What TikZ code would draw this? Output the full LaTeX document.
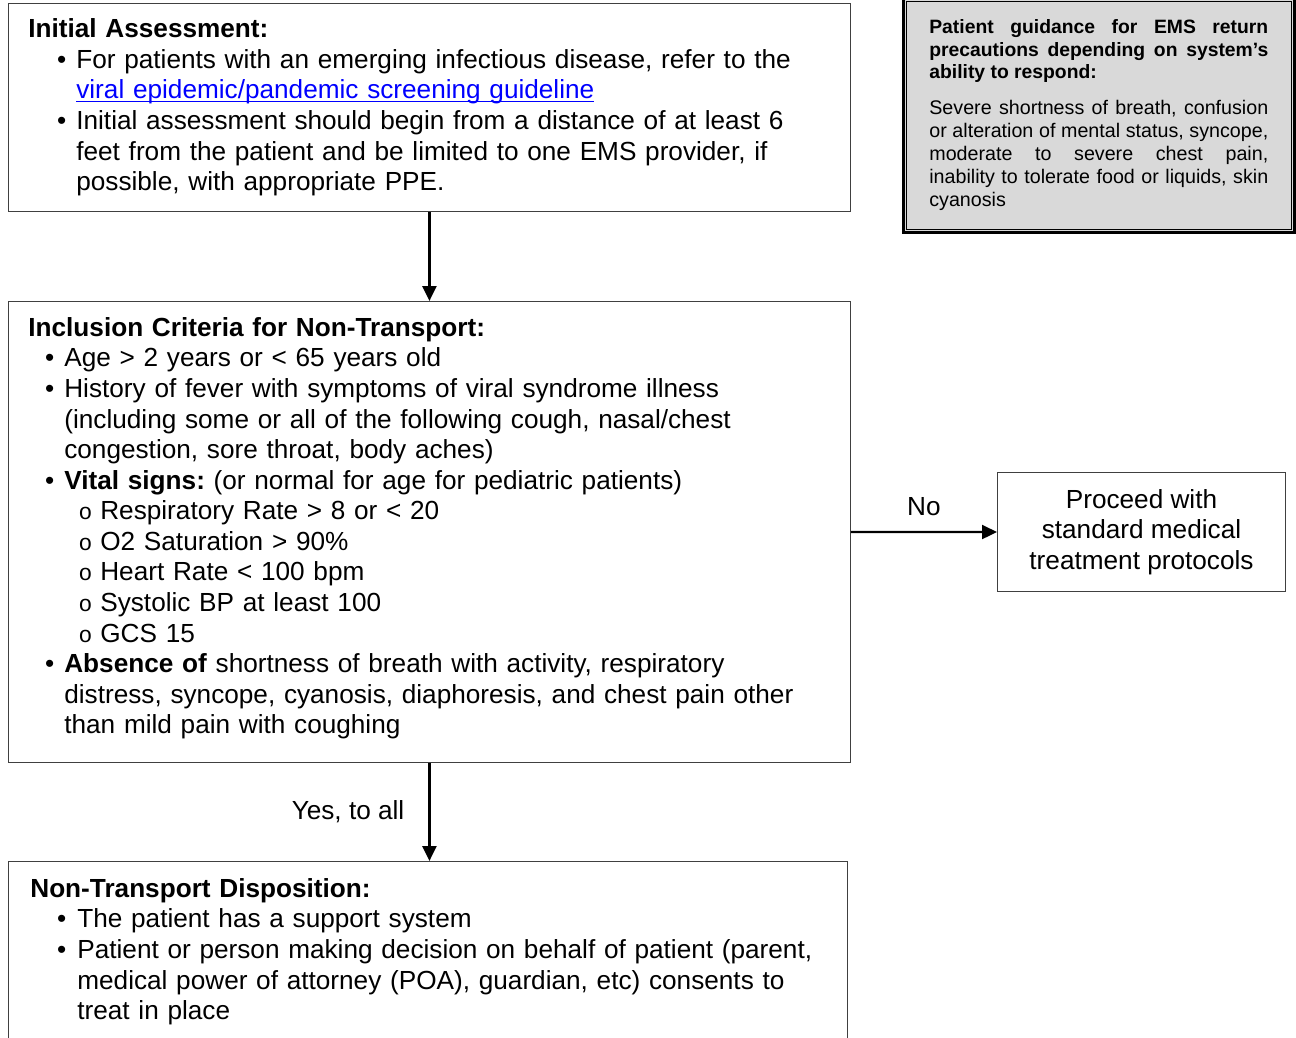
\documentclass[tikz,border=0pt]{standalone}
\usepackage{fontspec}
\setmainfont{Liberation Sans}
\newfontfamily\courierfam{Liberation Mono}
\usetikzlibrary{arrows.meta}
\usetikzlibrary{positioning}

\hyphenpenalty=10000
\exhyphenpenalty=10000
\frenchspacing

% list with own margins: #1 left margin, #2 label sep, #3 label
\newenvironment{bulletlist}[3]{\begin{list}{#3}{\setlength{\leftmargin}{#1}\setlength{\labelsep}{#2}\setlength{\labelwidth}{1cm}\setlength{\topsep}{0pt}\setlength{\partopsep}{0pt}\setlength{\itemsep}{0pt}\setlength{\parsep}{0pt}}}{\end{list}}
\newcommand{\weblink}[1]{\textcolor{blue}{\setbox0\hbox{#1}\rlap{\rule[-2pt]{\wd0}{0.7pt}}#1}}
\newcommand{\subbullet}{{\fontsize{13pt}{13pt}\courierfam o}}

\begin{document}
\begin{tikzpicture}[x=0.02cm,y=-0.02cm,
  box/.style={draw=black!75,line width=0.6pt,rectangle,inner sep=0pt,anchor=north west},
  guide/.style={draw=black,line width=1.7pt,fill=black!15,rectangle,inner sep=0pt,anchor=north west},
  txt/.style={inner sep=0pt,anchor=north west,align=left,font=\fontsize{14.9pt}{17.4pt}\selectfont},
  lbl/.style={inner sep=0pt,font=\fontsize{14.9pt}{17.4pt}\selectfont},
  arr/.style={line width=1.3pt,-{Triangle[length=0.3cm,width=0.28cm]}}]
\useasboundingbox (0,0) rectangle (1296,1038);

% boxes
\node[box,minimum width=16.84cm,minimum height=4.16cm] (box1) at (8,3) {};
\node[box,minimum width=16.84cm,minimum height=9.22cm] (box2) at (8,301) {};
\node[box,minimum width=5.76cm,minimum height=2.38cm,align=center,
  font=\fontsize{14.9pt}{17.4pt}\selectfont] (box3) at (997,472)
  {Proceed with\\standard medical\\treatment protocols};
\node[box,minimum width=16.78cm,minimum height=4cm] (box4) at (8,861) {};
\node[guide,minimum width=7.82cm,minimum height=4.68cm] (guide) at (902,-3) {};
\draw[black,line width=0.6pt] ([shift={(4.5,4.5)}]guide.north west) rectangle ([shift={(-4.5,-4.5)}]guide.south east);

% texts
\node[txt,text width=16.2cm] (text1) at (28,18.5) {\textbf{Initial Assessment:}
\begin{bulletlist}{0.96cm}{0.2cm}{\textbullet}
\item For patients with an emerging infectious disease, refer to the\\
\weblink{viral epidemic/pandemic screening guideline}
\item Initial assessment should begin from a distance of at least 6\\
feet from the patient and be limited to one EMS provider, if\\
possible, with appropriate PPE.
\end{bulletlist}};

\node[txt,text width=16.2cm] (text2) at (28,317) {\textbf{Inclusion Criteria for Non-Transport:}
\begin{bulletlist}{0.72cm}{0.2cm}{\textbullet}
\item Age > 2 years or < 65 years old
\item History of fever with symptoms of viral syndrome illness\\
(including some or all of the following cough, nasal/chest\\
congestion, sore throat, body aches)
\item \textbf{Vital signs:} (or normal for age for pediatric patients)
\begin{bulletlist}{0.72cm}{0.16cm}{\subbullet}
\item Respiratory Rate > 8 or < 20
\item O2 Saturation > 90\%
\item Heart Rate < 100 bpm
\item Systolic BP at least 100
\item GCS 15
\end{bulletlist}
\item \textbf{Absence of} shortness of breath with activity, respiratory\\
distress, syncope, cyanosis, diaphoresis, and chest pain other\\
than mild pain with coughing
\end{bulletlist}};

\node[txt,text width=16.2cm] (text4) at (30,878) {\textbf{Non-Transport Disposition:}
\begin{bulletlist}{0.94cm}{0.22cm}{\textbullet}
\item The patient has a support system
\item Patient or person making decision on behalf of patient (parent,\\
medical power of attorney (POA), guardian, etc) consents to\\
treat in place
\end{bulletlist}};

\node[txt,text width=6.78cm,align=justify,font=\fontsize{11.2pt}{13.2pt}\selectfont] (guidetext) at (929,19.5)
{{\fontsize{11pt}{12.8pt}\selectfont\bfseries Patient guidance for EMS return\linebreak precautions depending on system’s\linebreak ability to respond:\par}\vspace{0.24cm}
Severe shortness of breath, confusion\linebreak or alteration of mental status, syncope,\linebreak moderate to severe chest pain,\linebreak inability to tolerate food or liquids, skin\linebreak cyanosis};

% connectors
\draw[arr] (box1.south) -- (box2.north);
\draw[arr] (box2.east) -- node[lbl,above=0.3cm] (no) {No} (box3.west);
\draw[arr] (box2.south) -- node[lbl,left=0.48cm] (yes) {Yes, to all} (box2.south |- box4.north);
\end{tikzpicture}
\end{document}
